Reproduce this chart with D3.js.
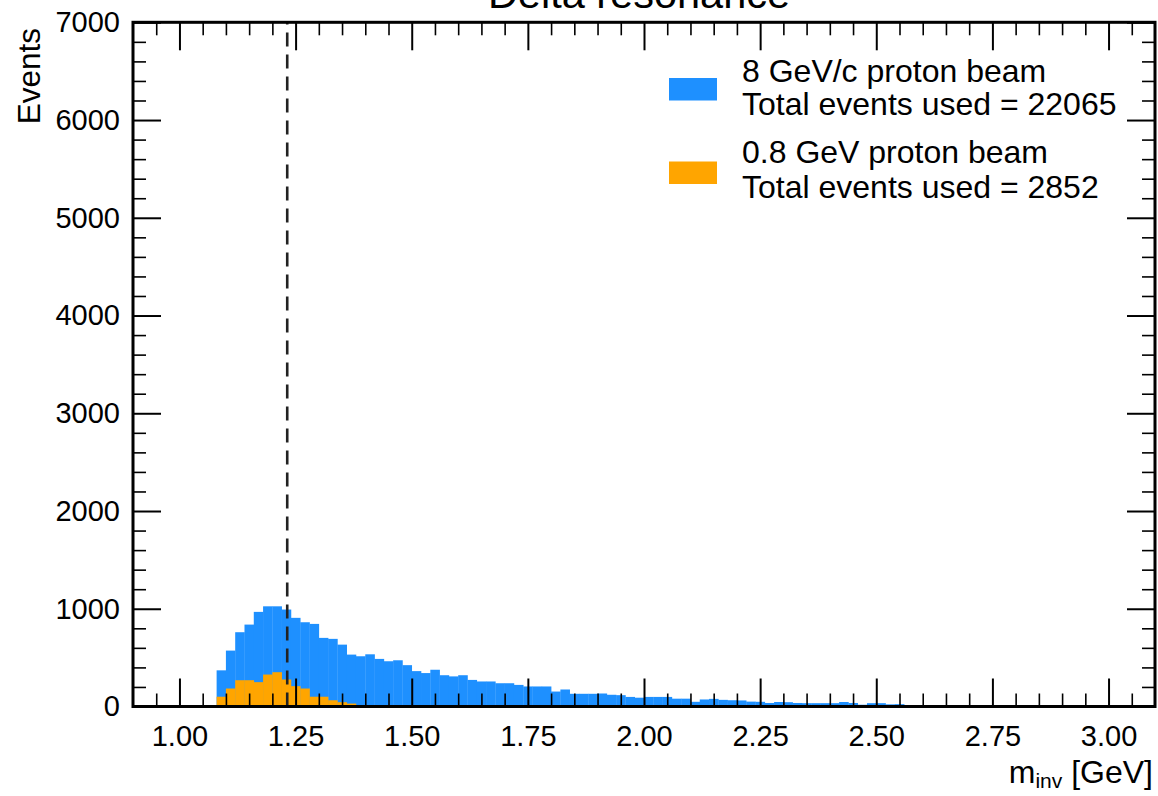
<!DOCTYPE html>
<html>
<head>
<meta charset="utf-8">
<script src="https://cdn.jsdelivr.net/npm/d3@7"></script>
<style>
  html, body { margin: 0; padding: 0; background: #ffffff; }
  svg { display: block; font-family: "Liberation Sans", Arial, Helvetica, sans-serif; }
</style>
</head>
<body>
<svg id="chart" width="1158" height="796"></svg>
<script>
// ---- data ----
const binStart = 1.08;
const binWidth = 0.02;
const beam8Counts = [
  370, 572, 760, 838, 968, 1025, 1025, 992, 907, 862,
  845, 702, 692, 633, 531, 514, 534, 487, 463, 473,
  423, 362, 342, 376, 320, 308, 320, 272, 256, 256,
  238, 238, 221, 205, 205, 205, 153, 174, 130, 130,
  130, 133, 120, 116, 98, 90, 98, 98, 98, 80,
  80, 48, 72, 78, 68, 64, 62, 50, 48, 36,
  46, 44, 36, 34, 34, 34, 34, 46, 36, 18,
  34, 34, 22, 24
];
const beam08Counts = [
  100, 184, 269, 269, 249, 327, 351, 276, 208, 184,
  100, 100, 64, 44, 30
];
const seriesLabels = [
  ["8 GeV/c proton beam", "Total events used = 22065"],
  ["0.8 GeV proton beam", "Total events used = 2852"]
];
const xTicks = [1.00, 1.25, 1.50, 1.75, 2.00, 2.25, 2.50, 2.75, 3.00];
const yTicks = [0, 1000, 2000, 3000, 4000, 5000, 6000, 7000];
const deltaMass = 1.232;
const xDomain = [0.9, 3.1];
const yDomain = [0, 7000];

// ---- layout ----
const L = 133, R = 1155, T = 22.3, B = 706.5;
const svg = d3.select("#chart");
const x = d3.scaleLinear().domain(xDomain).range([L, R]);
const y = d3.scaleLinear().domain(yDomain).range([B, T]);

const colBlue = "#1e90ff", colOrange = "#ffa500";

function drawHist(counts, color) {
  svg.append("g").selectAll("rect").data(counts).join("rect")
    .attr("x", (d, i) => x(binStart + i * binWidth))
    .attr("width", (d, i) => x(binStart + (i + 1) * binWidth) - x(binStart + i * binWidth) + 0.3)
    .attr("y", d => y(d))
    .attr("height", d => y(0) - y(d))
    .attr("fill", color);
}
drawHist(beam8Counts, colBlue);
drawHist(beam08Counts, colOrange);

// dashed line at Delta mass
svg.append("line")
  .attr("x1", x(deltaMass)).attr("x2", x(deltaMass))
  .attr("y1", B).attr("y2", T)
  .attr("stroke", "#222").attr("stroke-width", 2.6)
  .attr("stroke-dasharray", "14,8");

// minor tick values
const xMinor = d3.range(0, 45).map(i => +(0.9 + i * 0.05).toFixed(2))
  .filter(v => Math.abs(v / 0.25 - Math.round(v / 0.25)) > 1e-6 && v > 0.9 && v < 3.1);
const yMinor = d3.range(0, 36).map(i => i * 200).filter(v => v % 1000 !== 0 && v < 7000);

const fs = 29;
function styleAxis(g, w) {
  g.select(".domain").remove();
  g.selectAll(".tick line").attr("stroke", "#000").attr("stroke-width", w);
  g.selectAll("text").attr("font-size", fs).attr("fill", "#000")
    .attr("font-family", '"Liberation Sans", Arial, sans-serif');
}
// bottom
svg.append("g").attr("transform", `translate(0,${B})`)
  .call(d3.axisBottom(x).tickValues(xTicks).tickFormat(d3.format(".2f")).tickSize(-28).tickPadding(19))
  .call(g => styleAxis(g, 2));
svg.append("g").attr("transform", `translate(0,${B})`)
  .call(d3.axisBottom(x).tickValues(xMinor).tickFormat("").tickSize(-13))
  .call(g => styleAxis(g, 1.6));
// top
svg.append("g").attr("transform", `translate(0,${T})`)
  .call(d3.axisTop(x).tickValues(xTicks).tickFormat("").tickSize(-28))
  .call(g => styleAxis(g, 2));
svg.append("g").attr("transform", `translate(0,${T})`)
  .call(d3.axisTop(x).tickValues(xMinor).tickFormat("").tickSize(-13))
  .call(g => styleAxis(g, 1.6));
// left
svg.append("g").attr("transform", `translate(${L},0)`)
  .call(d3.axisLeft(y).tickValues(yTicks).tickFormat(d3.format("d")).tickSize(-28).tickPadding(13))
  .call(g => styleAxis(g, 2));
svg.append("g").attr("transform", `translate(${L},0)`)
  .call(d3.axisLeft(y).tickValues(yMinor).tickFormat("").tickSize(-13))
  .call(g => styleAxis(g, 1.6));
// right
svg.append("g").attr("transform", `translate(${R},0)`)
  .call(d3.axisRight(y).tickValues(yTicks).tickFormat("").tickSize(-28))
  .call(g => styleAxis(g, 2));
svg.append("g").attr("transform", `translate(${R},0)`)
  .call(d3.axisRight(y).tickValues(yMinor).tickFormat("").tickSize(-13))
  .call(g => styleAxis(g, 1.6));

// frame
svg.append("rect").attr("x", L).attr("y", T).attr("width", R - L).attr("height", B - T)
  .attr("fill", "none").attr("stroke", "#000").attr("stroke-width", 3);

// title (partly cut off at top, as in the reference)
svg.append("text").attr("x", (L + R) / 2 - 5).attr("y", 8)
  .attr("text-anchor", "middle").attr("font-size", 41.5).attr("fill", "#000")
  .text("Delta resonance");

// y label
svg.append("text").attr("transform", "translate(40,28) rotate(-90)")
  .attr("text-anchor", "end").attr("font-size", 31.5).attr("fill", "#000")
  .text("Events");

// x label
const xl = svg.append("text").attr("x", 1153).attr("y", 783)
  .attr("text-anchor", "end").attr("font-size", 32).attr("fill", "#000");
xl.append("tspan").text("m");
xl.append("tspan").attr("font-size", 21).attr("dy", 5).text("inv");
xl.append("tspan").attr("dy", -5).text(" [GeV]");

// legend
const legColors = [colBlue, colOrange];
const patchY = [78, 161.5];
const textBase = [[82, 115], [163, 197.5]];
seriesLabels.forEach((lines, i) => {
  svg.append("rect").attr("x", 669).attr("y", patchY[i]).attr("width", 48).attr("height", 22.5)
    .attr("fill", legColors[i]);
  lines.forEach((t, j) => {
    svg.append("text").attr("x", 742).attr("y", textBase[i][j])
      .attr("font-size", 32).attr("fill", "#000").text(t);
  });
});
</script>
</body>
</html>
